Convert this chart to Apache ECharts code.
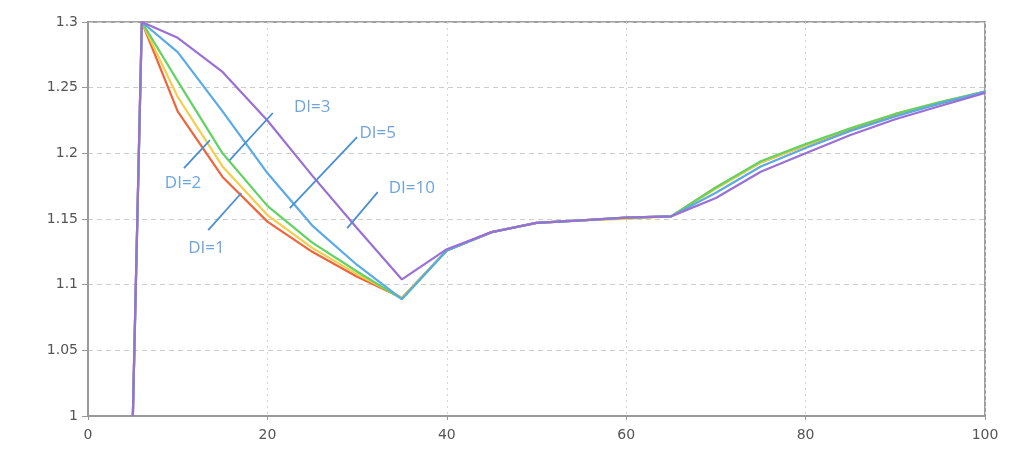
<!DOCTYPE html>
<html>
<head>
<meta charset="utf-8">
<script src="https://cdn.jsdelivr.net/npm/echarts@6/dist/echarts.min.js"></script>
<style>
  html, body { margin: 0; padding: 0; background: #fff; }
  #chart { width: 1011px; height: 451px; }
</style>
</head>
<body>
<div id="chart"></div>
<script>
// x positions shared by every curve
var xValues = [5, 6, 10, 15, 20, 25, 30, 35, 40, 45, 50, 55, 60, 65, 70, 75, 80, 85, 90, 95, 100];

// values
var di1  = [1.0, 1.3, 1.232, 1.182, 1.148, 1.125, 1.106, 1.090, 1.126, 1.140, 1.147, 1.149, 1.151, 1.152, 1.174, 1.193, 1.206, 1.218, 1.229, 1.238, 1.247];
var di2  = [1.0, 1.3, 1.243, 1.190, 1.153, 1.128, 1.108, 1.090, 1.126, 1.140, 1.147, 1.149, 1.150, 1.152, 1.173, 1.193, 1.206, 1.219, 1.230, 1.239, 1.247];
var di3  = [1.0, 1.3, 1.255, 1.200, 1.160, 1.132, 1.110, 1.089, 1.126, 1.140, 1.147, 1.149, 1.151, 1.152, 1.174, 1.194, 1.207, 1.219, 1.230, 1.239, 1.247];
var di5  = [1.0, 1.3, 1.277, 1.232, 1.185, 1.145, 1.115, 1.089, 1.126, 1.140, 1.147, 1.149, 1.151, 1.152, 1.170, 1.190, 1.204, 1.217, 1.228, 1.238, 1.247];
var di10 = [1.0, 1.3, 1.288, 1.262, 1.225, 1.183, 1.143, 1.104, 1.127, 1.140, 1.147, 1.149, 1.151, 1.152, 1.166, 1.186, 1.200, 1.214, 1.226, 1.236, 1.246];

var seriesNames = ['DI=1', 'DI=2', 'DI=3', 'DI=5', 'DI=10'];
var seriesColors = ['#f0643c', '#f2cf4a', '#62d262', '#5aaae6', '#9a70d4'];
var seriesValues = [di1, di2, di3, di5, di10];

// annotation text positions and leader lines (data coordinates)
var noteText = ['DI=1', 'DI=2', 'DI=3', 'DI=5', 'DI=10'];
var noteAt = [[13.2, 1.128], [10.6, 1.1774], [25.0, 1.2353], [32.3, 1.2155], [36.1, 1.1736]];
var noteFrom = [[13.4, 1.1416], [10.7, 1.1888], [20.6, 1.2307], [30.0, 1.2124], [32.3, 1.1705]];
var noteTo = [[17.1, 1.1698], [13.6, 1.2101], [15.8, 1.1949], [22.5, 1.1583], [28.9, 1.1431]];

var chart = echarts.init(document.getElementById('chart'));

var series = seriesValues.map(function (vals, i) {
  return {
    name: seriesNames[i],
    type: 'line',
    data: xValues.map(function (x, j) { return [x, vals[j]]; }),
    showSymbol: false,
    symbol: 'none',
    lineStyle: { color: seriesColors[i], width: 2.2 },
    silent: true,
    z: 3 + i
  };
});

noteText.forEach(function (t, i) {
  series.push({
    type: 'line',
    data: [noteFrom[i], noteTo[i]],
    symbol: 'none',
    lineStyle: { color: '#4a8fd2', width: 1.8 },
    silent: true,
    z: 10
  });
});

series.push({
  type: 'scatter',
  symbolSize: 0,
  silent: true,
  z: 11,
  data: noteAt.map(function (p, i) { return { value: p, name: noteText[i] }; }),
  label: {
    show: true,
    position: 'inside',
    formatter: '{b}',
    color: '#4b8fd5',
    fontSize: 17,
    fontFamily: 'Open Sans'
  }
});

var option = {
  animation: false,
  backgroundColor: '#fff',
  grid: {
    left: 88, right: 26, top: 22, bottom: 35,
    show: true,
    borderColor: '#a0a0a0',
    borderWidth: 2
  },
  xAxis: {
    type: 'value',
    min: 0, max: 100, interval: 20,
    axisLine: { show: true, lineStyle: { color: '#999', width: 2 } },
    axisTick: { show: true, length: 4, lineStyle: { color: '#999' } },
    axisLabel: { color: '#555', fontSize: 14, fontFamily: 'DejaVu Sans', margin: 12 },
    splitLine: { show: true, lineStyle: { color: '#d4d4d4', type: [2, 4] } }
  },
  yAxis: {
    type: 'value',
    min: 1, max: 1.3, interval: 0.05,
    axisLine: { show: true, lineStyle: { color: '#999', width: 2 } },
    axisTick: { show: true, length: 6, lineStyle: { color: '#999' } },
    axisLabel: { color: '#555', fontSize: 14, fontFamily: 'DejaVu Sans', margin: 10 },
    splitLine: { show: true, lineStyle: { color: '#cccccc', type: [5, 4] } }
  },
  series: series
};

chart.setOption(option);
</script>
</body>
</html>
